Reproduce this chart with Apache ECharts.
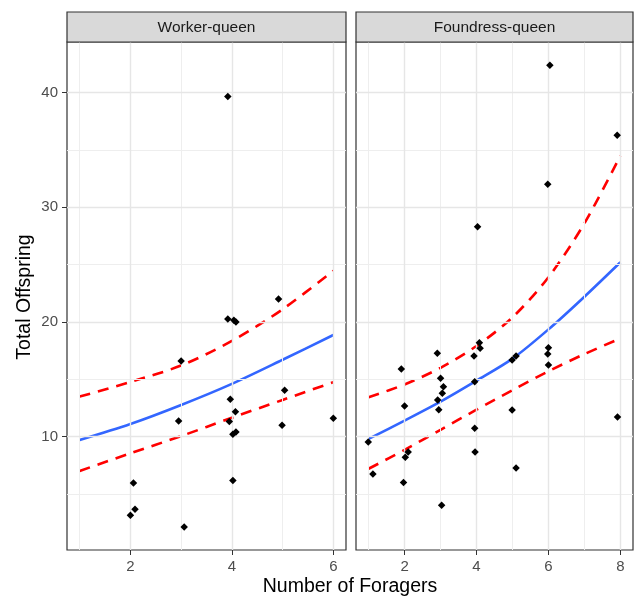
<!DOCTYPE html>
<html>
<head>
<meta charset="utf-8">
<script src="https://cdn.jsdelivr.net/npm/echarts@6/dist/echarts.min.js"></script>
<style>html,body{margin:0;padding:0;background:#fff}#c{width:635px;height:596px}</style>
</head>
<body>
<div id="c"></div>
<script>
// ---- Data ----
const panelNames = ["Worker-queen", "Foundress-queen"];
const xTitle = "Number of Foragers";
const yTitle = "Total Offspring";

// Worker-queen observations
const wqX = [3.92, 4.92, 3.92, 4.04, 4.08, 3.00, 3.97, 5.04, 4.07, 2.95, 3.95, 4.99, 6.00, 4.02, 4.08, 2.06, 4.02, 2.09, 2.00, 3.06];
const wqY = [39.65, 22.0, 20.25, 20.15, 20.0, 16.6, 13.26, 14.04, 12.18, 11.37, 11.31, 11.0, 11.6, 10.2, 10.4, 5.97, 6.17, 3.67, 3.15, 2.13];

// Foundress-queen observations
const fqX = [6.04, 7.91, 5.98, 4.03, 4.08, 4.10, 3.93, 2.91, 1.91, 6.00, 5.98, 6.00, 5.10, 4.99, 3.00, 3.08, 3.05, 2.92, 2.95, 2.00, 3.95, 3.95, 4.99, 7.92, 0.99, 2.10, 2.02, 3.96, 1.12, 1.97, 5.10, 3.03];
const fqY = [42.38, 36.28, 32.0, 28.3, 18.19, 17.7, 17.03, 17.26, 15.9, 17.75, 17.2, 16.25, 17.03, 16.68, 15.09, 14.36, 13.78, 13.2, 12.35, 12.67, 14.79, 10.73, 12.33, 11.72, 9.54, 8.67, 8.2, 8.67, 6.75, 6.0, 7.27, 4.02];

// Fitted curves
const wqFitX = [1, 2, 3, 4, 5, 6];
const wqFit = [9.71, 11.1, 12.76, 14.6, 16.7, 18.86];
const wqUpper = [13.49, 14.77, 16.2, 18.34, 21.1, 24.46];
const wqLower = [7.01, 8.55, 10.05, 11.65, 13.2, 14.75];

const fqFitX = [1, 2, 3, 4, 5, 6, 7, 8];
const fqFit = [9.8, 11.4, 13.05, 14.88, 16.8, 19.35, 22.2, 25.2];
const fqUpper = [13.43, 14.55, 16.0, 17.9, 20.4, 23.9, 28.6, 34.5];
const fqLower = [7.2, 8.85, 10.6, 12.35, 14.05, 15.7, 17.2, 18.57];

// Ticks
const wqXTicks = [2, 4, 6];
const wqXMinor = [1, 3, 5];
const fqXTicks = [2, 4, 6, 8];
const fqXMinor = [1, 3, 5, 7];
const yTicks = [10, 20, 30, 40];
const yMinor = [5, 15, 25, 35];

// ---- Chart ----
const FONT = "'Liberation Sans', Arial, sans-serif";
const pairs = (xs, ys) => xs.map((x, i) => [x, ys[i]]);

const grids = [
  {left: 67, top: 42, width: 279, height: 508},
  {left: 356, top: 42, width: 277, height: 508}
];

function xAxisDef(idx, min, max, ticks) {
  return {
    type: 'value', gridIndex: idx, min: min, max: max,
    axisLine: {show: false},
    splitLine: {show: false},
    axisTick: {show: true, customValues: ticks, length: 5, lineStyle: {color: '#333333', width: 1}},
    axisLabel: {show: true, customValues: ticks, margin: 9, color: '#4D4D4D', fontSize: 15, fontFamily: FONT}
  };
}
function yAxisDef(idx, showLabels) {
  return {
    type: 'value', gridIndex: idx, min: 0.12, max: 44.4,
    axisLine: {show: false},
    splitLine: {show: false},
    axisTick: {show: showLabels, customValues: yTicks, length: 5, lineStyle: {color: '#333333', width: 1}},
    axisLabel: {show: showLabels, customValues: yTicks, margin: 9, color: '#4D4D4D', fontSize: 15, fontFamily: FONT}
  };
}

function gridSeries(idx, xMajor, xMinor) {
  const data = [];
  xMinor.forEach(v => data.push({xAxis: v, lineStyle: {color: '#EEEEEE', width: 1, type: 'solid'}}));
  yMinor.forEach(v => data.push({yAxis: v, lineStyle: {color: '#EEEEEE', width: 1, type: 'solid'}}));
  xMajor.forEach(v => data.push({xAxis: v, lineStyle: {color: '#E6E6E6', width: 1.4, type: 'solid'}}));
  yTicks.forEach(v => data.push({yAxis: v, lineStyle: {color: '#E6E6E6', width: 1.4, type: 'solid'}}));
  return {
    type: 'line', xAxisIndex: idx, yAxisIndex: idx, data: [], z: 1,
    markLine: {silent: true, symbol: ['none', 'none'], label: {show: false}, animation: false, data: data}
  };
}
function scatterSeries(idx, xs, ys) {
  return {
    type: 'scatter', xAxisIndex: idx, yAxisIndex: idx, z: 5,
    data: pairs(xs, ys), symbol: 'diamond', symbolSize: 7.5,
    itemStyle: {color: '#000000', opacity: 1}
  };
}
function lineSeries(idx, xs, ys, color, dashed) {
  return {
    type: 'line', xAxisIndex: idx, yAxisIndex: idx, z: 4,
    data: pairs(xs, ys), showSymbol: false, smooth: 0.3,
    lineStyle: {color: color, width: 2.6, type: dashed ? [11, 8] : 'solid', cap: 'butt'}
  };
}

const option = {
  animation: false,
  backgroundColor: '#ffffff',
  grid: grids.map(g => Object.assign({show: true, borderColor: '#333333', borderWidth: 1.2, backgroundColor: '#ffffff', containLabel: false}, g)),
  xAxis: [xAxisDef(0, 0.75, 6.25, wqXTicks), xAxisDef(1, 0.65, 8.35, fqXTicks)],
  yAxis: [yAxisDef(0, true), yAxisDef(1, false)],
  series: [
    gridSeries(0, wqXTicks, wqXMinor),
    gridSeries(1, fqXTicks, fqXMinor),
    scatterSeries(0, wqX, wqY),
    scatterSeries(1, fqX, fqY),
    lineSeries(0, wqFitX, wqUpper, '#FF0000', true),
    lineSeries(0, wqFitX, wqLower, '#FF0000', true),
    lineSeries(0, wqFitX, wqFit, '#3366FF', false),
    lineSeries(1, fqFitX, fqUpper, '#FF0000', true),
    lineSeries(1, fqFitX, fqLower, '#FF0000', true),
    lineSeries(1, fqFitX, fqFit, '#3366FF', false)
  ],
  graphic: [
    {type: 'rect', shape: {x: 67, y: 12, width: 279, height: 30}, style: {fill: '#D9D9D9', stroke: '#333333', lineWidth: 1.2}, z: 10},
    {type: 'rect', shape: {x: 356, y: 12, width: 277, height: 30}, style: {fill: '#D9D9D9', stroke: '#333333', lineWidth: 1.2}, z: 10},
    {type: 'text', x: 67 + 279 / 2, y: 28, z: 11, style: {text: panelNames[0], font: '15.5px ' + FONT, fill: '#1A1A1A', align: 'center', verticalAlign: 'middle'}},
    {type: 'text', x: 356 + 277 / 2, y: 28, z: 11, style: {text: panelNames[1], font: '15.5px ' + FONT, fill: '#1A1A1A', align: 'center', verticalAlign: 'middle'}},
    {type: 'text', x: 350, y: 587, z: 11, style: {text: xTitle, font: '19.5px ' + FONT, fill: '#000000', align: 'center', verticalAlign: 'middle'}},
    {type: 'text', x: 25, y: 297, rotation: Math.PI / 2, z: 11, style: {text: yTitle, font: '19.5px ' + FONT, fill: '#000000', align: 'center', verticalAlign: 'middle'}}
  ]
};

const chart = echarts.init(document.getElementById('c'), null, {renderer: 'canvas'});
chart.setOption(option);
</script>
</body>
</html>
